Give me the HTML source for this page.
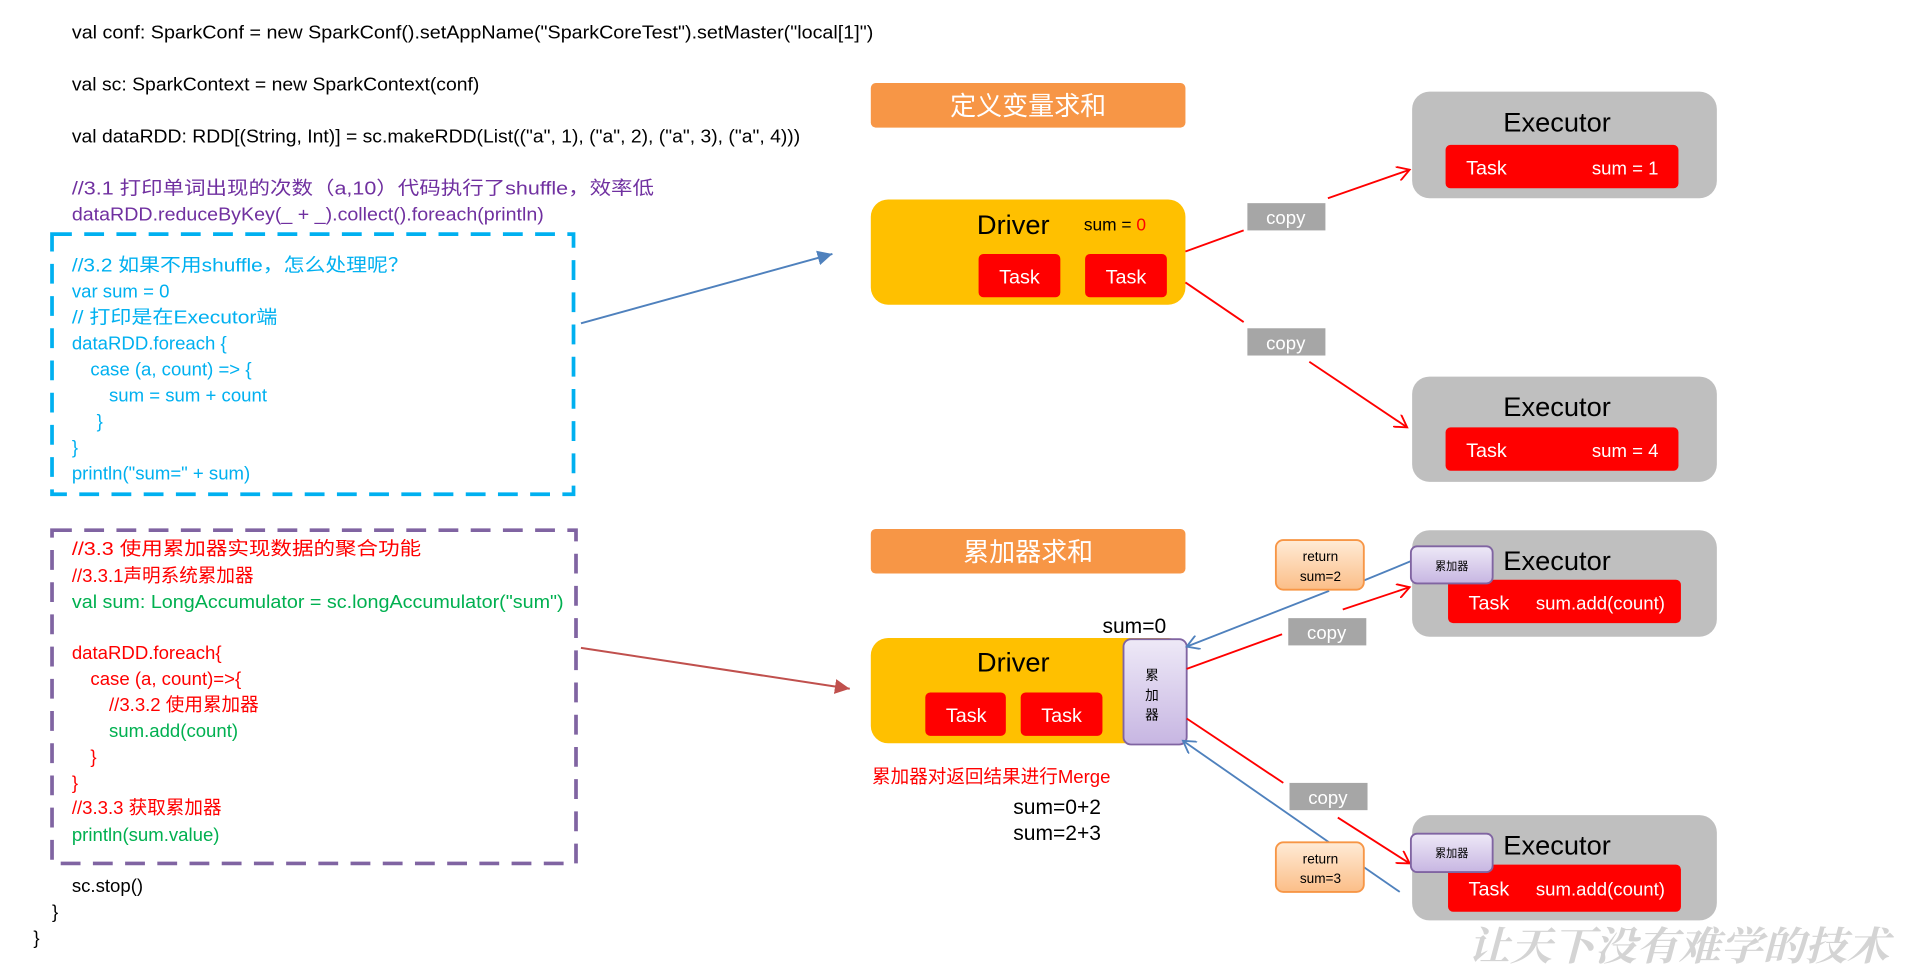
<!DOCTYPE html>
<html><head><meta charset="utf-8"><style>
html,body{margin:0;padding:0;background:#fff;}
svg{display:block;}
text{font-family:"Liberation Sans","Noto Sans CJK SC",sans-serif;}
</style></head><body>
<svg width="1920" height="965" viewBox="0 0 1550 779" preserveAspectRatio="none" xmlns="http://www.w3.org/2000/svg">
<defs>
<marker id="ar" markerWidth="12" markerHeight="12" refX="10" refY="6" orient="auto" markerUnits="userSpaceOnUse"><path d="M0,0 L10,6 L0,12" fill="none" stroke="#f00" stroke-width="1.5"/></marker>
<marker id="ab" markerWidth="12" markerHeight="12" refX="10" refY="6" orient="auto" markerUnits="userSpaceOnUse"><path d="M0,0 L10,6 L0,12" fill="none" stroke="#4F81BD" stroke-width="1.5"/></marker>
<marker id="abf" markerWidth="14" markerHeight="12" refX="12" refY="6" orient="auto" markerUnits="userSpaceOnUse"><path d="M0,0 L12,6 L0,12z" fill="#4F81BD"/></marker>
<marker id="arf" markerWidth="14" markerHeight="12" refX="12" refY="6" orient="auto" markerUnits="userSpaceOnUse"><path d="M0,0 L12,6 L0,12z" fill="#C0504D"/></marker>
<linearGradient id="lav" x1="0" y1="0" x2="0" y2="1"><stop offset="0" stop-color="#EEE9F7"/><stop offset="1" stop-color="#C7B6E2"/></linearGradient>
<linearGradient id="org" x1="0" y1="0" x2="0" y2="1"><stop offset="0" stop-color="#FFEBD6"/><stop offset="1" stop-color="#FBBE88"/></linearGradient>
</defs>

<g font-size="15" fill="#000">
<text x="58" y="31" textLength="647" lengthAdjust="spacingAndGlyphs">val conf: SparkConf = new SparkConf().setAppName("SparkCoreTest").setMaster("local[1]")</text>
<text x="58" y="73" textLength="329" lengthAdjust="spacingAndGlyphs">val sc: SparkContext = new SparkContext(conf)</text>
<text x="58" y="115" textLength="588" lengthAdjust="spacingAndGlyphs">val dataRDD: RDD[(String, Int)] = sc.makeRDD(List(("a", 1), ("a", 2), ("a", 3), ("a", 4)))</text>
</g>
<g font-size="15" fill="#7030A0">
<text x="58" y="157" textLength="470" lengthAdjust="spacingAndGlyphs">//3.1 打印单词出现的次数（a,10）代码执行了shuffle，效率低</text>
<text x="58" y="178" textLength="381" lengthAdjust="spacingAndGlyphs">dataRDD.reduceByKey(_ + _).collect().foreach(println)</text>
</g>
<rect x="42" y="189" width="421" height="210" fill="none" stroke="#00B0F0" stroke-width="3" stroke-dasharray="16,10"/>
<g font-size="15" fill="#00B0F0">
<text x="58" y="219" textLength="272" lengthAdjust="spacingAndGlyphs">//3.2 如果不用shuffle，怎么处理呢？</text>
<text x="58" y="240">var sum = 0</text>
<text x="58" y="261" textLength="166" lengthAdjust="spacingAndGlyphs">// 打印是在Executor端</text>
<text x="58" y="282">dataRDD.foreach {</text>
<text x="73" y="303">case (a, count) =&gt; {</text>
<text x="88" y="324">sum = sum + count</text>
<text x="78" y="345">}</text>
<text x="58" y="366">}</text>
<text x="58" y="387">println("sum=" + sum)</text>
</g>
<line x1="469" y1="261" x2="672" y2="205" stroke="#4F81BD" stroke-width="1.6" marker-end="url(#abf)"/>

<rect x="42" y="428" width="423" height="269" fill="none" stroke="#8064A2" stroke-width="3" stroke-dasharray="16,10"/>
<g font-size="15">
<text x="58" y="448" fill="#f00" textLength="282" lengthAdjust="spacingAndGlyphs">//3.3 使用累加器实现数据的聚合功能</text>
<text x="58" y="470" fill="#f00">//3.3.1声明系统累加器</text>
<text x="58" y="491" fill="#00B050" textLength="397" lengthAdjust="spacingAndGlyphs">val sum: LongAccumulator = sc.longAccumulator("sum")</text>
<text x="58" y="532" fill="#f00">dataRDD.foreach{</text>
<text x="73" y="553" fill="#f00">case (a, count)=&gt;{</text>
<text x="88" y="574" fill="#f00">//3.3.2 使用累加器</text>
<text x="88" y="595" fill="#00B050">sum.add(count)</text>
<text x="73" y="616" fill="#f00">}</text>
<text x="58" y="637" fill="#f00">}</text>
<text x="58" y="657" fill="#f00">//3.3.3 获取累加器</text>
<text x="58" y="679" fill="#00B050">println(sum.value)</text>
<text x="58" y="720" fill="#000">sc.stop()</text>
<text x="42" y="741" fill="#000">}</text>
<text x="27" y="762" fill="#000">}</text>
</g>
<line x1="469" y1="523" x2="686" y2="556" stroke="#C0504D" stroke-width="1.6" marker-end="url(#arf)"/>

<rect x="703" y="67" width="254" height="36" rx="4" fill="#F79646"/>
<text x="830" y="93" font-size="21" fill="#fff" text-anchor="middle">定义变量求和</text>
<rect x="703" y="161" width="254" height="85" rx="14" fill="#FFC000"/>
<text x="818" y="189" font-size="22" text-anchor="middle">Driver</text>
<text x="875" y="186" font-size="14">sum = <tspan fill="#f00">0</tspan></text>
<rect x="790" y="205" width="66" height="35" rx="4" fill="#f00"/><text x="823" y="229" font-size="16" fill="#fff" text-anchor="middle">Task</text>
<rect x="876" y="205" width="66" height="35" rx="4" fill="#f00"/><text x="909" y="229" font-size="16" fill="#fff" text-anchor="middle">Task</text>

<rect x="1007" y="164" width="63" height="22" fill="#A6A6A6"/><text x="1038" y="181" font-size="15" fill="#fff" text-anchor="middle">copy</text>
<rect x="1007" y="265" width="63" height="22" fill="#A6A6A6"/><text x="1038" y="282" font-size="15" fill="#fff" text-anchor="middle">copy</text>
<g stroke="#f00" stroke-width="1.5" fill="none">
<line x1="957" y1="203" x2="1004" y2="186"/><line x1="1072" y1="160" x2="1138" y2="137" marker-end="url(#ar)"/>
<line x1="957" y1="228" x2="1004" y2="260"/><line x1="1057" y1="292" x2="1136" y2="345" marker-end="url(#ar)"/>
</g>
<rect x="1140" y="74" width="246" height="86" rx="14" fill="#BFBFBF"/>
<text x="1257" y="106" font-size="22" text-anchor="middle">Executor</text>
<rect x="1167" y="117" width="188" height="35" rx="4" fill="#f00"/>
<text x="1200" y="141" font-size="16" fill="#fff" text-anchor="middle">Task</text><text x="1312" y="141" font-size="15" fill="#fff" text-anchor="middle">sum = 1</text>
<rect x="1140" y="304" width="246" height="85" rx="14" fill="#BFBFBF"/>
<text x="1257" y="336" font-size="22" text-anchor="middle">Executor</text>
<rect x="1167" y="345" width="188" height="35" rx="4" fill="#f00"/>
<text x="1200" y="369" font-size="16" fill="#fff" text-anchor="middle">Task</text><text x="1312" y="369" font-size="15" fill="#fff" text-anchor="middle">sum = 4</text>

<rect x="703" y="427" width="254" height="36" rx="4" fill="#F79646"/>
<text x="830" y="453" font-size="21" fill="#fff" text-anchor="middle">累加器求和</text>
<rect x="703" y="515" width="254" height="85" rx="14" fill="#FFC000"/>
<text x="818" y="542" font-size="22" text-anchor="middle">Driver</text>
<rect x="747" y="559" width="65" height="35" rx="4" fill="#f00"/><text x="780" y="583" font-size="16" fill="#fff" text-anchor="middle">Task</text>
<rect x="824" y="559" width="66" height="35" rx="4" fill="#f00"/><text x="857" y="583" font-size="16" fill="#fff" text-anchor="middle">Task</text>
<rect x="907" y="516" width="51" height="85" rx="6" fill="url(#lav)" stroke="#8064A2" stroke-width="1.5"/>
<g font-size="11" text-anchor="middle"><text x="930" y="549">累</text><text x="930" y="565">加</text><text x="930" y="581">器</text></g>
<text x="890" y="511" font-size="17">sum=0</text>
<text x="704" y="632" font-size="15" fill="#f00">累加器对返回结果进行Merge</text>
<text x="818" y="657" font-size="17">sum=0+2</text>
<text x="818" y="678" font-size="17">sum=2+3</text>

<rect x="1040" y="499" width="63" height="22" fill="#A6A6A6"/><text x="1071" y="516" font-size="15" fill="#fff" text-anchor="middle">copy</text>
<rect x="1041" y="632" width="63" height="22" fill="#A6A6A6"/><text x="1072" y="649" font-size="15" fill="#fff" text-anchor="middle">copy</text>

<g fill="none" stroke-width="1.5">
<line x1="1139" y1="453" x2="1100" y2="469" stroke="#4F81BD"/>
<line x1="1073" y1="477" x2="958" y2="522" stroke="#4F81BD" marker-end="url(#ab)"/>
<line x1="958" y1="540" x2="1035" y2="512" stroke="#f00"/>
<line x1="1084" y1="492" x2="1138" y2="474" stroke="#f00" marker-end="url(#ar)"/>
<line x1="958" y1="580" x2="1036" y2="632" stroke="#f00"/>
<line x1="1080" y1="660" x2="1138" y2="697" stroke="#f00" marker-end="url(#ar)"/>
<line x1="1130" y1="720" x2="1101" y2="700" stroke="#4F81BD"/>
<line x1="1073" y1="680" x2="955" y2="598" stroke="#4F81BD" marker-end="url(#ab)"/>
</g>

<rect x="1030" y="436" width="71" height="40" rx="6" fill="url(#org)" stroke="#F79646" stroke-width="1.5"/>
<text x="1066" y="453" font-size="11" text-anchor="middle">return</text><text x="1066" y="469" font-size="11" text-anchor="middle">sum=2</text>
<rect x="1030" y="680" width="71" height="40" rx="6" fill="url(#org)" stroke="#F79646" stroke-width="1.5"/>
<text x="1066" y="697" font-size="11" text-anchor="middle">return</text><text x="1066" y="713" font-size="11" text-anchor="middle">sum=3</text>

<rect x="1140" y="428" width="246" height="86" rx="14" fill="#BFBFBF"/>
<text x="1257" y="460" font-size="22" text-anchor="middle">Executor</text>
<rect x="1169" y="468" width="188" height="35" rx="4" fill="#f00"/>
<text x="1202" y="492" font-size="16" fill="#fff" text-anchor="middle">Task</text><text x="1292" y="492" font-size="15" fill="#fff" text-anchor="middle">sum.add(count)</text>
<rect x="1139" y="441" width="66" height="30" rx="5" fill="url(#lav)" stroke="#8064A2" stroke-width="1.5"/>
<text x="1172" y="460" font-size="9" text-anchor="middle">累加器</text>

<rect x="1140" y="658" width="246" height="85" rx="14" fill="#BFBFBF"/>
<text x="1257" y="690" font-size="22" text-anchor="middle">Executor</text>
<rect x="1169" y="698" width="188" height="38" rx="4" fill="#f00"/>
<text x="1202" y="723" font-size="16" fill="#fff" text-anchor="middle">Task</text><text x="1292" y="723" font-size="15" fill="#fff" text-anchor="middle">sum.add(count)</text>
<rect x="1139" y="673" width="66" height="31" rx="5" fill="url(#lav)" stroke="#8064A2" stroke-width="1.5"/>
<text x="1172" y="692" font-size="9" text-anchor="middle">累加器</text>

<text x="1185" y="775" font-size="32" fill="#d4d4d4" font-weight="bold" font-style="italic" textLength="340" lengthAdjust="spacingAndGlyphs" style="font-family:'Noto Serif CJK SC','Liberation Serif',serif">让天下没有难学的技术</text>
</svg>
</body></html>
